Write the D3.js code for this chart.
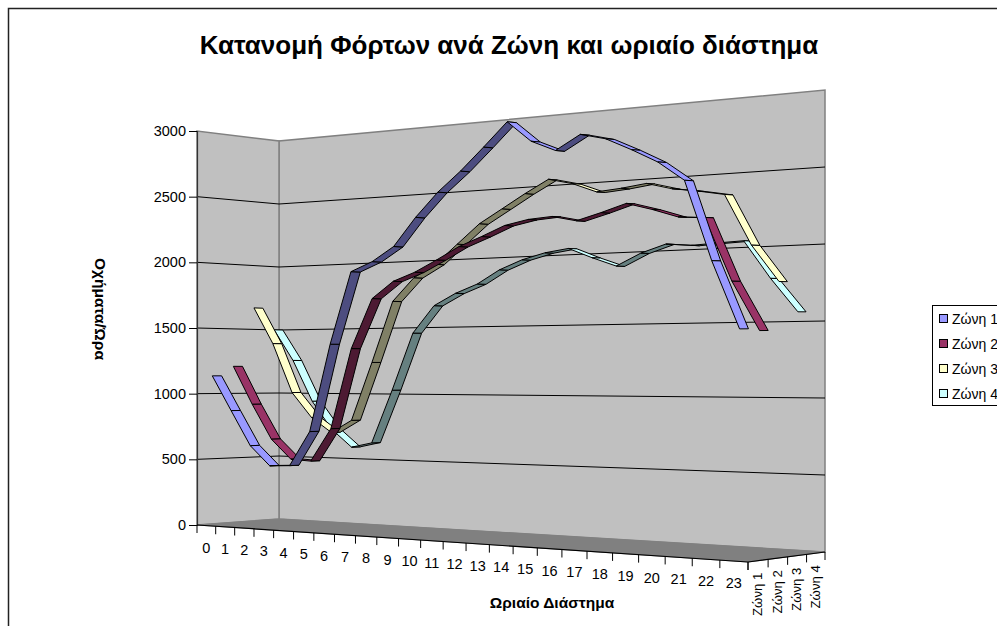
<!DOCTYPE html>
<html><head><meta charset="utf-8">
<script src="https://cdn.jsdelivr.net/npm/d3@7/dist/d3.min.js"></script>
<style>html,body{margin:0;padding:0;background:#fff;overflow:hidden}svg{display:block}text{font-family:"Liberation Sans",Arial,sans-serif;fill:#000}</style>
</head><body><svg id="c" width="997" height="626"></svg>
<script>
const hours = d3.range(0,24).map(String);
const zones = ["Ζώνη 1","Ζώνη 2","Ζώνη 3","Ζώνη 4"];
const zone1 = [1135,872,612,467,474,727,1360,1876,1941,2041,2237,2403,2538,2691,2850,2708,2636,2732,2693,2613,2525,2400,1884,1453];
const zone2 = [1208,917,655,509,500,743,1329,1688,1807,1866,1947,2034,2097,2166,2200,2213,2177,2225,2279,2233,2178,2169,1756,1441];
const zone3 = [1662,1381,1005,817,707,800,1228,1672,1838,1928,2065,2202,2298,2395,2484,2445,2380,2396,2420,2377,2354,2325,1991,1754];
const zone4 = [1496,1253,936,724,591,627,1022,1443,1640,1725,1787,1883,1948,1991,2015,1945,1883,1966,2022,2008,2019,2029,1779,1560];
const series = [zone1,zone2,zone3,zone4];
const yTicks = [0,500,1000,1500,2000,2500,3000];
const lightColors = ["#9999FF","#993366","#FFFFCC","#CCFFFF"];
const darkColors = ["#4D4D80","#4D1A33","#808066","#668080"];
const titleText = "Κατανομή Φόρτων ανά Ζώνη και ωριαίο διάστημα";
const xTitle = "Ωριαίο Διάστημα";
const yTitle = "Οχήματα/Ώρα";

// box corners in the picture (layout)
const floorQuad = [[197,525],[748,562],[825,552],[279,519]]; // u,z: 00,10,11,01
const topQuad   = [[197,131],[748,81],[825,90],[279,141]];

function homography(q){
  const [[x0,y0],[x1,y1],[x2,y2],[x3,y3]] = q;
  const dx1=x1-x2,dx2=x3-x2,sx=x0-x1+x2-x3,dy1=y1-y2,dy2=y3-y2,sy=y0-y1+y2-y3;
  const den=dx1*dy2-dx2*dy1;
  const g=(sx*dy2-dx2*sy)/den,h=(dx1*sy-sx*dy1)/den;
  const a=x1-x0+g*x1,b=x3-x0+h*x3,d=y1-y0+g*y1,e=y3-y0+h*y3;
  return (u,v)=>{const w=g*u+h*v+1;return [(a*u+b*v+x0)/w,(d*u+e*v+y0)/w];};
}
const F=homography(floorQuad),T=homography(topQuad);
const warpB=0.08;
const warp=u=>(1+warpB)*u/(1+warpB*u);
const xBand=d3.scaleBand().domain(hours).range([0,1]);
const zBand=d3.scaleBand().domain(zones).range([0,1]);
const val=d3.scaleLinear().domain([0,3000]).range([0,1]);
function P(u,z,v){const w=warp(u),a=F(w,z),b=T(w,z),t=val(v);return [a[0],a[1]+(b[1]-a[1])*t];}
const line=d3.line();
const svg=d3.select("#c");
const poly=(pts)=>line(pts)+"Z";

// frame
svg.append("rect").attr("x",8.5).attr("y",8.5).attr("width",1200).attr("height",900).attr("fill","#fff").attr("stroke","#222").attr("stroke-width",1.5);

svg.append("text").attr("x",509).attr("y",53.5).attr("text-anchor","middle").style("font-size","26px").style("font-weight","bold").text(titleText);

// walls
svg.append("path").attr("d",poly([P(0,1,0),P(1,1,0),P(1,1,3000),P(0,1,3000)])).attr("fill","#C0C0C0").attr("stroke","#808080").attr("stroke-width",1.5);
svg.append("path").attr("d",poly([P(0,0,0),P(0,1,0),P(0,1,3000),P(0,0,3000)])).attr("fill","#C0C0C0").attr("stroke","#808080").attr("stroke-width",1.5);
svg.append("path").attr("d",poly([P(0,0,0),P(1,0,0),P(1,1,0),P(0,1,0)])).attr("fill","#808080").attr("stroke","#808080");

// grid
const grid=svg.append("g").attr("fill","none").attr("stroke","#000");
grid.selectAll("path").data(yTicks.filter(d=>d>0&&d<3000)).join("path")
  .attr("d",d=>line([P(0,0,d),P(0,1,d),P(1,1,d)]));

// y axis
const yScale=d3.scaleLinear().domain([0,3000]).range([525,131]);
const yAxis=svg.append("g").attr("transform","translate(197,0)").call(d3.axisLeft(yScale).tickValues(yTicks).tickSize(8).tickPadding(3).tickFormat(d3.format("d")));
yAxis.selectAll("text").style("font-size","14.5px").style("font-family",'"Liberation Sans"');
yAxis.select(".domain").attr("stroke","#333").attr("stroke-width",1.2);

// floor front edges & ticks
svg.append("path").attr("d",line([P(0,0,0),P(1,0,0),P(1,1,0)])).attr("fill","none").attr("stroke","#000").attr("stroke-width",1.2);
const xEdges=d3.range(0,25).map(i=>i/24);
svg.append("g").selectAll("line").data(xEdges).join("line")
  .attr("x1",d=>P(d,0,0)[0]).attr("x2",d=>P(d,0,0)[0])
  .attr("y1",d=>P(d,0,0)[1]).attr("y2",d=>P(d,0,0)[1]+8).attr("stroke","#000");
svg.append("g").selectAll("text").data(hours).join("text")
  .attr("x",d=>P(xBand(d)+xBand.bandwidth()/2,0,0)[0])
  .attr("y",d=>P(xBand(d)+xBand.bandwidth()/2,0,0)[1]+27)
  .attr("text-anchor","middle").style("font-size","14.5px").text(d=>d);
const zEdges=d3.range(0,5).map(i=>i/4);
svg.append("g").selectAll("line").data(zEdges).join("line")
  .attr("x1",d=>P(1,d,0)[0]).attr("x2",d=>P(1,d,0)[0])
  .attr("y1",d=>P(1,d,0)[1]).attr("y2",d=>P(1,d,0)[1]+8).attr("stroke","#000");
svg.append("g").selectAll("text").data(zones).join("text")
  .attr("transform",d=>{const p=P(1,zBand(d)+zBand.bandwidth()/2,0);return `translate(${p[0]+4},${p[1]+12}) rotate(-90)`;})
  .attr("text-anchor","end").style("font-size","13.2px").text(d=>d);

svg.append("text").attr("x",552).attr("y",608).attr("text-anchor","middle").style("font-size","15.5px").style("font-weight","bold").text(xTitle);
svg.append("text").attr("transform","translate(95,309) rotate(90)").attr("text-anchor","middle").style("font-size","15.5px").style("font-weight","bold").text(yTitle);

// ribbons, back to front
const halfDepth=0.055;
d3.range(3,-1,-1).forEach(si=>{
  const zc=zBand(zones[si])+zBand.bandwidth()/2, vals=series[si];
  const segs=d3.range(vals.length-1).map(i=>({i,a:vals[i],b:vals[i+1]}));
  const g=svg.append("g").attr("stroke","#000").attr("stroke-width",1).attr("stroke-linejoin","round");
  g.selectAll("path").data(segs).join("path")
    .attr("fill",d=>d.b>d.a?darkColors[si]:lightColors[si])
    .attr("d",d=>{
      const u0=xBand(hours[d.i])+xBand.bandwidth()/2,u1=xBand(hours[d.i+1])+xBand.bandwidth()/2;
      return poly([P(u0,zc-halfDepth,d.a),P(u1,zc-halfDepth,d.b),P(u1,zc+halfDepth,d.b),P(u0,zc+halfDepth,d.a)]);
    });
});

// legend
const lg=svg.append("g");
lg.append("rect").attr("x",932.5).attr("y",305.5).attr("width",120).attr("height",100).attr("fill","#fff").attr("stroke","#000");
const ly=d3.scalePoint().domain(zones).range([319,394]);
lg.selectAll("rect.k").data(zones).join("rect").attr("class","k")
  .attr("x",939.5).attr("y",d=>ly(d)-4.5).attr("width",8).attr("height",8)
  .attr("fill",(d,i)=>lightColors[i]).attr("stroke","#000");
lg.selectAll("text").data(zones).join("text").attr("x",952).attr("y",d=>ly(d)+4.5).style("font-size","14px").text(d=>d);
</script></body></html>
